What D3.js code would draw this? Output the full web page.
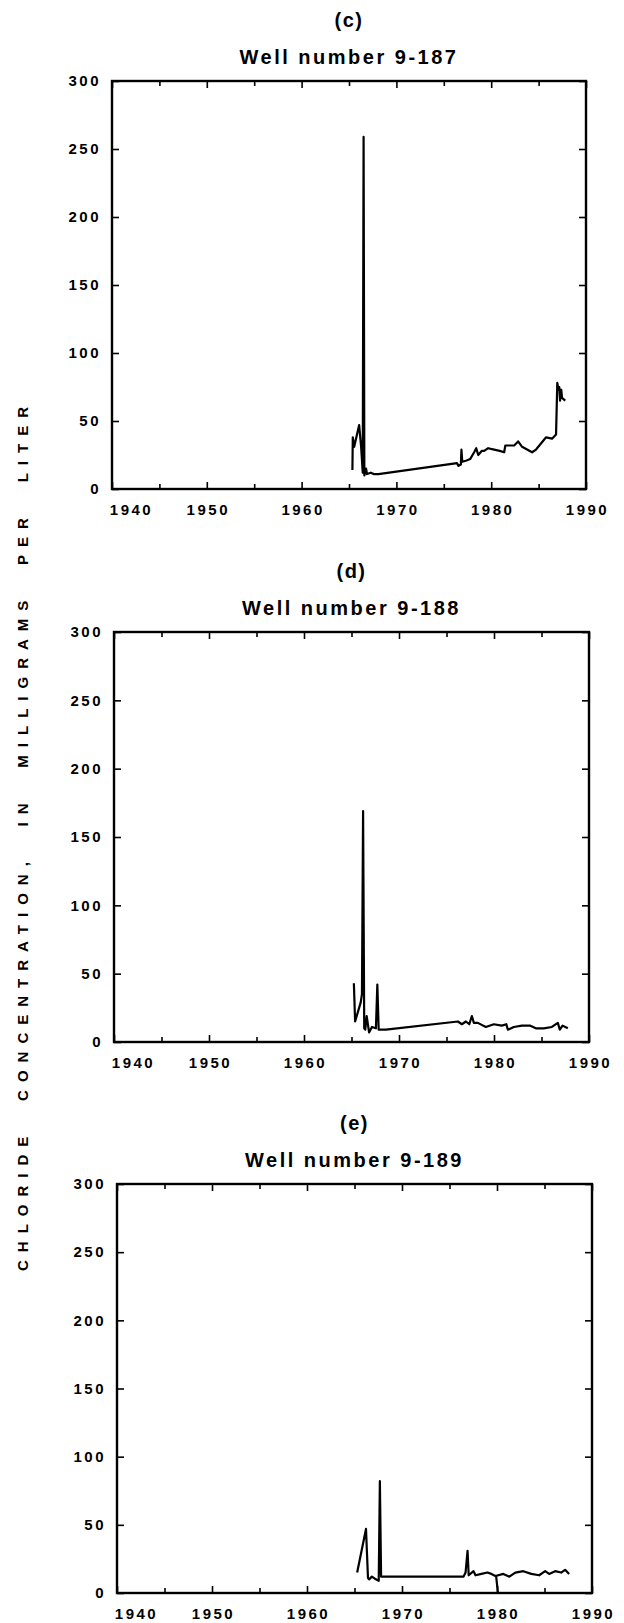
<!DOCTYPE html>
<html><head><meta charset="utf-8">
<script src="https://cdn.jsdelivr.net/npm/d3@7"></script>
<style>
body{margin:0;background:#fff}
svg{display:block}
text{font-family:"Liberation Sans",Arial,sans-serif;fill:#000}
</style>
</head><body>
<svg id="chart" width="624" height="1623"></svg>
<script>
// ---- data ----
const xTickYears = [1940, 1950, 1960, 1970, 1980, 1990];
const xMinorYears = [1945, 1955, 1965, 1975, 1985];
const yTickValues = [0, 50, 100, 150, 200, 250, 300];
const panelLetters = ["(c)", "(d)", "(e)"];
const wellNames = ["Well number 9-187", "Well number 9-188", "Well number 9-189"];
const yAxisTitle = "CHLORIDE CONCENTRATION, IN MILLIGRAMS PER LITER";

const well187Years = [1965.36,1965.40,1965.55,1966.07,1966.28,1966.45,1966.54,1966.62,1966.80,1966.90,1967.30,1967.60,1968.10,1976.40,1976.55,1976.80,1976.86,1976.95,1977.40,1977.78,1978.20,1978.42,1978.63,1979.00,1979.26,1979.68,1980.31,1980.90,1981.37,1981.49,1982.42,1982.84,1983.26,1984.31,1984.73,1985.79,1986.42,1986.84,1986.97,1987.10,1987.18,1987.26,1987.39,1987.47,1987.81];
const well187Chloride = [14,38,31,47,31,12,259,10,15,11,12,11,11,19,17,18,29,20,21,22,27,30,25,28,28,30,29,28,27,32,32,35,31,27,29,38,37,40,78,73,75,65,73,67,65];

const well188Years = [1965.25,1965.38,1965.97,1966.10,1966.22,1966.34,1966.45,1966.60,1966.85,1967.15,1967.57,1967.72,1967.86,1968.62,1976.20,1976.62,1977.04,1977.40,1977.67,1977.88,1978.30,1979.14,1979.98,1980.82,1981.30,1981.46,1982.09,1982.93,1983.77,1984.40,1985.24,1986.09,1986.72,1986.93,1987.22,1987.77];
const well188Chloride = [43,15,29,35,169,10,9,19,7,11,10,42,9,9,15,13,15,13,19,14,14,11,13,12,13,9,11,12,12,10,10,11,14,9,12,10];

const well189Years = [1965.28,1966.21,1966.42,1966.54,1966.83,1967.25,1967.55,1967.67,1967.80,1976.48,1976.69,1976.90,1977.02,1977.53,1977.74,1978.36,1978.99,1979.41,1979.83,1980.67,1981.30,1981.93,1982.77,1983.61,1984.44,1985.07,1985.49,1986.12,1986.75,1987.17,1987.59];
const well189Chloride = [15,47,11,10,12,10,9,82,12,12,15,31,13,16,13,14,15,14,12.5,14,12,15,16,14,13,16,14,16,15,17,14];
const well189DropYears = [1979.90, 1980.10];
const well189DropChloride = [13, 0];

// ---- layout ----
const panels = [
  {letter: panelLetters[0], name: wellNames[0], series: [[well187Years, well187Chloride]], box: {l:112, r:586, t:81, b:489}},
  {letter: panelLetters[1], name: wellNames[1], series: [[well188Years, well188Chloride]], box: {l:114, r:589, t:632, b:1042}},
  {letter: panelLetters[2], name: wellNames[2], series: [[well189Years, well189Chloride],[well189DropYears, well189DropChloride]], box: {l:117, r:592, t:1184, b:1593}}
];

const svg = d3.select("#chart");

panels.forEach(p => {
  const B = p.box;
  const x = d3.scaleLinear().domain([1940, 1990]).range([B.l, B.r]);
  const y = d3.scaleLinear().domain([0, 300]).range([B.b, B.t]);
  const g = svg.append("g");
  const cx = (B.l + B.r) / 2;

  g.append("text").attr("x", cx).attr("y", B.t - 54)
    .attr("text-anchor", "middle").style("font-size", "20px").style("font-weight", "bold")
    .style("letter-spacing", "1.5px")
    .text(p.letter);
  g.append("text").attr("x", cx).attr("y", B.t - 17)
    .attr("text-anchor", "middle").style("font-size", "20px").style("font-weight", "bold")
    .style("letter-spacing", "2.5px")
    .text(p.name);

  const styleAxis = sel => {
    sel.select(".domain").remove();
    sel.selectAll(".tick line").attr("stroke", "#000").attr("stroke-width", 1.6);
    sel.selectAll(".tick text").style("font-size", "15px").style("font-weight", "bold")
      .style("letter-spacing", "2.5px").attr("fill", "#000");
  };

  g.append("g").attr("transform", `translate(0,${B.b})`)
    .call(d3.axisBottom(x).tickValues(xMinorYears).tickSize(-5).tickFormat(""))
    .call(styleAxis);
  g.append("g").attr("transform", `translate(0,${B.t})`)
    .call(d3.axisTop(x).tickValues(xMinorYears).tickSize(-5).tickFormat(""))
    .call(styleAxis);
  g.append("g").attr("transform", `translate(0,${B.t})`)
    .call(d3.axisTop(x).tickValues(xTickYears).tickSize(-7).tickFormat(""))
    .call(styleAxis);
  const xb = g.append("g").attr("transform", `translate(0,${B.b})`)
    .call(d3.axisBottom(x).tickValues(xTickYears).tickSize(-7).tickPadding(15).tickFormat(d3.format("d")))
    .call(styleAxis);
  xb.selectAll(".tick text").attr("dx", d => d === 1940 ? 19 : 1);

  g.append("g").attr("transform", `translate(${B.l},0)`)
    .call(d3.axisLeft(y).tickValues(yTickValues).tickSize(-7).tickPadding(11))
    .call(styleAxis);
  g.append("g").attr("transform", `translate(${B.r},0)`)
    .call(d3.axisRight(y).tickValues(yTickValues).tickSize(-7).tickFormat(""))
    .call(styleAxis);

  g.append("rect").attr("x", B.l).attr("y", B.t).attr("width", B.r - B.l).attr("height", B.b - B.t)
    .attr("fill", "none").attr("stroke", "#000").attr("stroke-width", 2.4);

  const line = d3.line().x(d => x(d[0])).y(d => y(d[1]));
  p.series.forEach(([yrs, vals]) => {
    const pts = yrs.map((yr, i) => [yr, vals[i]]);
    g.append("path").datum(pts).attr("d", line)
      .attr("fill", "none").attr("stroke", "#000").attr("stroke-width", 2.2)
      .attr("stroke-linejoin", "round");
  });
});

// rotated y-axis title
const yt = svg.append("text")
  .attr("transform", "translate(28,835) rotate(-90)")
  .attr("text-anchor", "middle")
  .style("font-size", "15px").style("font-weight", "bold")
  .style("letter-spacing", "8px")
  .text(yAxisTitle);
const len0 = yt.node().getComputedTextLength();
const gaps = yAxisTitle.split(" ").length - 1;
yt.style("word-spacing", Math.max(0, (872 - len0) / gaps) + "px");
</script>
</body></html>
